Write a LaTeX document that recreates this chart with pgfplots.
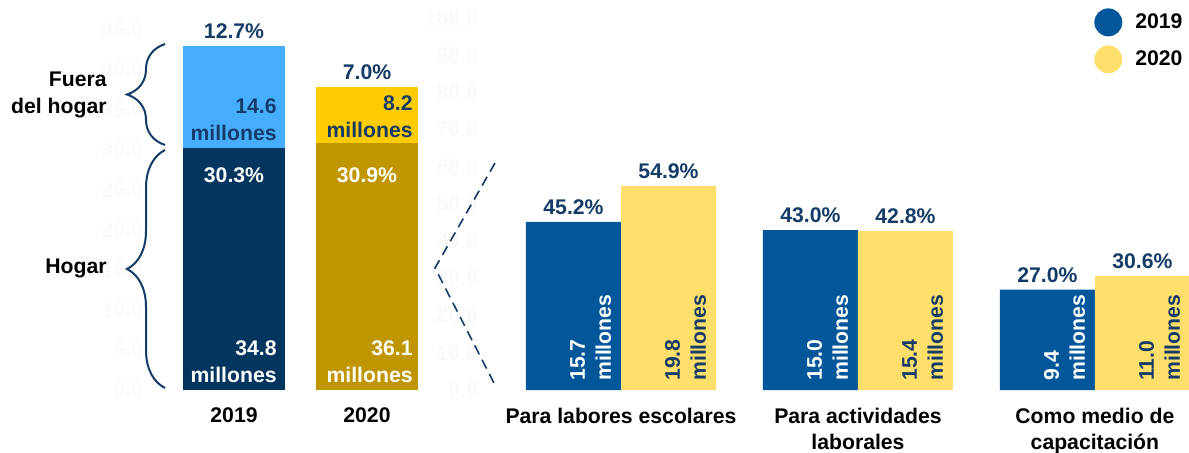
\documentclass[border=0pt]{standalone}
\usepackage{fontspec}
\setmainfont{Liberation Sans}
\usepackage{pgfplots}
\pgfplotsset{compat=1.18}
\usetikzlibrary{decorations.pathreplacing}

\definecolor{hogarA}{RGB}{3,54,95}
\definecolor{fueraA}{RGB}{71,174,255}
\definecolor{hogarB}{RGB}{192,150,0}
\definecolor{fueraB}{RGB}{255,204,0}
\definecolor{azul}{RGB}{2,86,154}
\definecolor{amarillo}{RGB}{254,223,108}
\definecolor{navy}{RGB}{20,60,102}
\definecolor{faint}{RGB}{249,249,249}

\tikzset{
  mill/.style={anchor=south east, align=right, inner sep=0pt, font=\fontsize{10.6}{13.5}\selectfont\bfseries},
  rmill/.style={rotate=90, anchor=south west, align=left, inner sep=0pt, font=\fontsize{10.6}{13}\selectfont\bfseries},
}

\pgfplotsset{
  dotlegend/.style={legend image code/.code={\fill[##1] (7pt,0pt) circle (7pt); \path (18.5pt,0pt);}},
  base/.style={
    scale only axis, clip=false,
    axis line style={draw=none}, major tick length=0pt, ymin=0,
    /pgf/number format/assume math mode=true,
    yticklabel style={/pgf/number format/.cd, fixed, fixed zerofill, precision=1, /tikz/.cd, text=faint},
    xticklabel style={text=black, align=center, yshift=-5.5pt},
  },
}

\begin{document}
\begin{tikzpicture}[font=\fontsize{10.6}{12.8}\selectfont\bfseries]
\useasboundingbox (0,0) rectangle (594.5pt,226pt);

% left: hogar / fuera del hogar
\begin{axis}[base, at={(75pt,31pt)}, anchor=south west,
  width=140pt, height=185pt,
  xmin=-0.632, xmax=1.474, ymax=46.25,
  ytick={0,5,...,45}, xtick={0,1}, xticklabels={2019,2020},
  ybar stacked, bar width=0.767]
\addplot[fill=hogarA, draw=none] coordinates {(0,30.3) (1,0)};
\addplot[fill=hogarB, draw=none] coordinates {(0,0) (1,30.9)};
\addplot[fill=fueraA, draw=none] coordinates {(0,12.7) (1,0)};
\addplot[fill=fueraB, draw=none] coordinates {(0,0) (1,7.0)};

\node[navy, anchor=south] at (axis cs:0,43.0) {12.7\%};
\node[navy, anchor=south] at (axis cs:1,37.9) {7.0\%};
\end{axis}

% labels inside the stacked bars (drawn after the bars)
\node[white] at (117pt,138.6pt) {30.3\%};
\node[white] at (183.5pt,138.6pt) {30.9\%};
\node[mill, navy] at (138.5pt,155.2pt) {14.6\\millones};
\node[mill, white] at (138.5pt,34.5pt) {34.8\\millones};
\node[mill, navy] at (206.5pt,157.1pt) {8.2\\millones};
\node[mill, white] at (206.5pt,34.5pt) {36.1\\millones};

% right: uso por tipo
\begin{axis}[base, at={(242.5pt,31pt)}, anchor=south west,
  width=352pt, height=186pt,
  xmin=-0.574, xmax=2.397, ymax=100,
  ytick={0,10,...,100}, xtick={0,1,2},
  xticklabels={Para labores escolares, {Para actividades\\laborales}, {Como medio de\\capacitación}},
  ybar=0pt, bar width=0.401,
  nodes near coords={\pgfmathprintnumber[fixed,fixed zerofill,precision=1,assume math mode=true]{\pgfplotspointmeta}\%},
  every node near coord/.append style={text=navy},
  legend style={draw=none, fill=none, inner sep=0pt, row sep=4.5pt,
    at={(0.997,1.027)}, anchor=north east},
  legend cell align=left]
\addplot[fill=azul, draw=none, dotlegend] coordinates {(0,45.2) (1,43.0) (2,27.0)};
\addplot[fill=amarillo, draw=none, dotlegend] coordinates {(0,54.9) (1,42.8) (2,30.6)};
\legend{2019,2020}

\node[rmill, white] at (axis cs:-0.04,2.4) {15.7\\millones};
\node[rmill, navy] at (axis cs:0.361,2.4) {19.8\\millones};
\node[rmill, white] at (axis cs:0.96,2.4) {15.0\\millones};
\node[rmill, navy] at (axis cs:1.361,2.4) {15.4\\millones};
\node[rmill, white] at (axis cs:1.96,2.4) {9.4\\millones};
\node[rmill, navy] at (axis cs:2.361,2.4) {11.0\\millones};
\end{axis}

% braces and labels
\draw[navy, line width=1pt, decorate, decoration={brace, amplitude=19pt}] (82.5pt,153.5pt) -- (82.5pt,204pt);
\draw[navy, line width=1pt, decorate, decoration={brace, amplitude=19pt}] (82.5pt,32pt) -- (82.5pt,151pt);
\node[anchor=east, align=right, inner sep=0pt, font=\fontsize{10.6}{13.5}\selectfont\bfseries] at (53.5pt,178.5pt) {Fuera\\del hogar};
\node[anchor=east, inner sep=0pt] at (53.5pt,92pt) {Hogar};

\draw[navy, line width=0.8pt, dash pattern=on 5pt off 3pt] (247.5pt,144.5pt) -- (217.5pt,92pt) -- (247.5pt,33.5pt);
\end{tikzpicture}
\end{document}
